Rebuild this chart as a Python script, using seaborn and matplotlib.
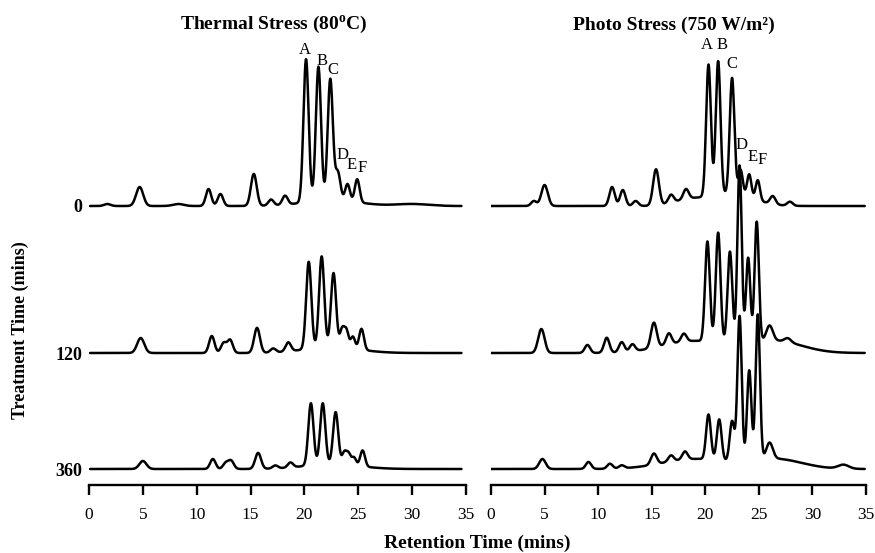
import numpy as np
import pandas as pd
import matplotlib
matplotlib.use("Agg")
import matplotlib.pyplot as plt
import seaborn as sns

# ---------------- data (peak tables) ----------------
treatment_labels = ["0", "120", "360"]
x_ticks = [0, 5, 10, 15, 20, 25, 30, 35]

# Thermal stress, 0 min
th0_rt = [1.7, 4.7, 8.3, 11.1, 12.2, 15.3, 16.9, 18.2, 20.15, 21.3, 22.4, 23.1, 24.0, 24.9, 22.5, 30.0]
th0_h  = [2, 19, 2, 17, 12, 32, 6, 9, 143, 134, 121, 28, 17, 23, 6, 2]
th0_w  = [0.3, 0.33, 0.5, 0.25, 0.25, 0.27, 0.25, 0.25, 0.24, 0.24, 0.24, 0.24, 0.22, 0.22, 2.5, 1.5]
# Thermal stress, 120 min
th1_rt = [4.8, 11.4, 12.5, 13.1, 15.6, 17.1, 18.5, 20.4, 21.6, 22.7, 23.5, 23.9, 24.5, 25.3, 22.5]
th1_h  = [15, 17, 10, 13, 25, 4, 9, 87, 91, 74, 18, 17, 12, 21, 6]
th1_w  = [0.33, 0.25, 0.25, 0.25, 0.27, 0.25, 0.25, 0.24, 0.24, 0.24, 0.2, 0.2, 0.2, 0.22, 2.5]
# Thermal stress, 360 min
th2_rt = [5.0, 11.5, 12.7, 13.2, 15.7, 17.3, 18.7, 20.6, 21.7, 22.9, 23.7, 24.1, 24.6, 25.4, 22.5]
th2_h  = [8, 10, 6, 8, 16, 3, 5, 62, 61, 52, 12, 11, 8, 16, 5]
th2_w  = [0.33, 0.25, 0.25, 0.25, 0.27, 0.25, 0.25, 0.24, 0.24, 0.24, 0.2, 0.2, 0.2, 0.22, 2.5]

# Photo stress, 0 min
ph0_rt = [4.0, 5.0, 11.3, 12.3, 13.5, 15.4, 16.8, 18.2, 20.3, 21.2, 22.5, 23.3, 24.1, 24.9, 26.3, 27.9, 18.5, 22.5]
ph0_h  = [5, 21, 19, 16, 5, 36, 8, 10, 132, 134, 116, 25, 23, 20, 8, 4, 6, 12]
ph0_w  = [0.25, 0.3, 0.25, 0.25, 0.25, 0.27, 0.25, 0.25, 0.22, 0.22, 0.22, 0.2, 0.2, 0.2, 0.25, 0.25, 1.5, 2.0]
# Photo stress, 120 min
ph1_rt = [4.7, 9.0, 10.8, 12.2, 13.2, 15.2, 16.6, 18.0, 20.2, 21.2, 22.3, 23.2, 24.0, 24.8, 26.0, 27.7, 19.0, 26.5]
ph1_h  = [24, 8, 15, 10, 7, 25, 11, 8, 100, 110, 92, 178, 85, 120, 15, 4, 12, 12]
ph1_w  = [0.3, 0.25, 0.25, 0.25, 0.25, 0.27, 0.25, 0.25, 0.22, 0.22, 0.22, 0.2, 0.2, 0.2, 0.3, 0.3, 3.0, 2.5]
# Photo stress, 360 min
ph2_rt = [4.8, 9.1, 11.1, 12.2, 15.2, 16.8, 18.1, 20.3, 21.3, 22.5, 23.2, 24.1, 24.9, 26.0, 32.9, 19.0, 26.5]
ph2_h  = [10, 7, 5, 3, 11, 6, 8, 45, 41, 40, 145, 90, 145, 16, 4, 10, 10]
ph2_w  = [0.3, 0.25, 0.25, 0.25, 0.27, 0.25, 0.25, 0.22, 0.22, 0.22, 0.2, 0.2, 0.2, 0.3, 0.5, 3.0, 2.5]

# peak-letter annotations (retention time, signal height of label)
peak_letters = ["A", "B", "C", "D", "E", "F"]
thermal_letter_rt = [20.05, 21.6, 22.6, 23.5, 24.4, 25.35]
thermal_letter_y  = [435, 424, 415, 330, 320, 317]
photo_letter_rt   = [20.1, 21.6, 22.5, 23.35, 24.4, 25.3]
photo_letter_y    = [440, 440, 421, 340, 328, 325]

# ---------------- layout constants ----------------
offsets = [279, 132, 16]        # vertical stacking of the three traces
FIG_W, FIG_H = 875, 553

sns.set_theme(style="white")
plt.rcParams["font.family"] = ["Liberation Serif", "DejaVu Serif"]
plt.rcParams["mathtext.fontset"] = "custom"
plt.rcParams["mathtext.rm"] = "Liberation Serif"
plt.rcParams["mathtext.bf"] = "Liberation Serif:bold"
plt.rcParams["text.color"] = "black"
plt.rcParams["axes.labelcolor"] = "black"
plt.rcParams["xtick.color"] = "black"
plt.rcParams["ytick.color"] = "black"


def chromatogram(t, rts, hs, ws):
    y = np.zeros_like(t)
    for r, h, w in zip(rts, hs, ws):
        y += h * np.exp(-0.5 * ((t - r) / w) ** 2)
    return y


panels = {
    "thermal": ([(th0_rt, th0_h, th0_w), (th1_rt, th1_h, th1_w), (th2_rt, th2_h, th2_w)], (0.1, 34.6)),
    "photo": ([(ph0_rt, ph0_h, ph0_w), (ph1_rt, ph1_h, ph1_w), (ph2_rt, ph2_h, ph2_w)], (0.0, 34.9)),
}

rows = []
for panel, (traces, (t0, t1)) in panels.items():
    t = np.arange(t0, t1, 0.02)
    for lab, off, (r, h, w) in zip(treatment_labels, offsets, traces):
        y = chromatogram(t, r, h, w) + off
        rows.append(pd.DataFrame({"time": t, "signal": y, "panel": panel, "treatment": lab}))
df = pd.concat(rows, ignore_index=True)

fig = plt.figure(figsize=(FIG_W / 100, FIG_H / 100), dpi=100)
ax_l = fig.add_axes([89 / FIG_W, 68 / FIG_H, 377 / FIG_W, 445 / FIG_H])
ax_r = fig.add_axes([491 / FIG_W, 68 / FIG_H, 375 / FIG_W, 445 / FIG_H])

for ax, panel in [(ax_l, "thermal"), (ax_r, "photo")]:
    sub = df[df["panel"] == panel]
    sns.lineplot(data=sub, x="time", y="signal", units="treatment", estimator=None,
                 sort=False, color="black", lw=1.8, ax=ax, legend=False)
    ax.set_xlim(0, 35)
    ax.set_ylim(0, 445)
    ax.set_xticks(x_ticks)
    ax.set_xticklabels([str(v) for v in x_ticks], fontsize=12.5)
    ax.set_xlabel("")
    ax.set_ylabel("")
    for s in ["top", "right", "left"]:
        ax.spines[s].set_visible(False)
    ax.spines["bottom"].set_linewidth(1.7)
    ax.spines["bottom"].set_color("black")
    ax.tick_params(axis="x", direction="out", length=7, width=1.7, pad=9,
                   bottom=True, colors="black", labelsize=12.5)
    ax.set_facecolor("white")

ax_l.set_yticks(offsets)
ax_l.set_yticklabels(treatment_labels, fontsize=13, fontweight="bold")
ax_l.tick_params(axis="y", length=0, pad=5, left=True, colors="black")
ax_r.set_yticks([])

for ax, rts, ys in [(ax_l, thermal_letter_rt, thermal_letter_y),
                    (ax_r, photo_letter_rt, photo_letter_y)]:
    for letter, r, y in zip(peak_letters, rts, ys):
        ax.text(r, y, letter, ha="center", va="center", fontsize=12, color="black")

fig.text(274 / FIG_W, 1 - 25 / FIG_H, r"Thermal Stress (80$^{\mathbf{o}}$C)",
         ha="center", va="center", fontsize=14, fontweight="bold")
fig.text(674 / FIG_W, 1 - 25 / FIG_H, "Photo Stress (750 W/m²)",
         ha="center", va="center", fontsize=14, fontweight="bold")
fig.text(477 / FIG_W, 1 - 543 / FIG_H, "Retention Time (mins)",
         ha="center", va="center", fontsize=14, fontweight="bold")
fig.text(20 / FIG_W, 1 - 330 / FIG_H, "Treatment Time (mins)", rotation=90,
         ha="center", va="center", fontsize=13, fontweight="bold")

fig.savefig("out.png", dpi=100, facecolor="white")
